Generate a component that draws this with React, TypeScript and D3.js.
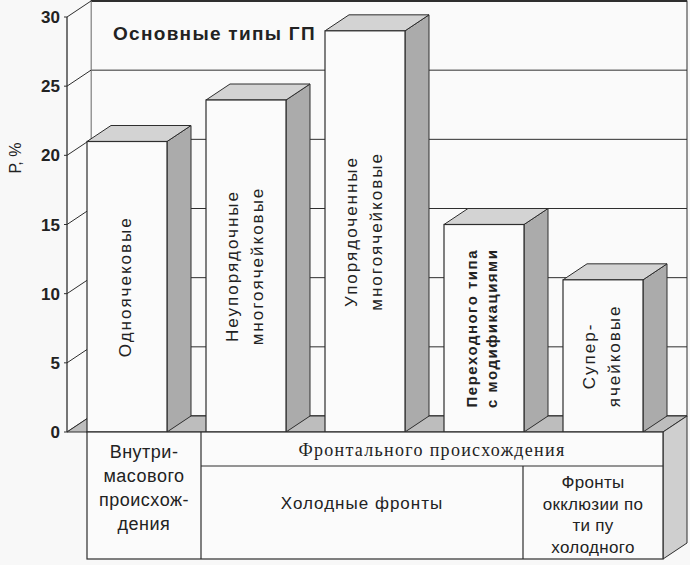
import React from 'react';
import * as d3 from 'd3';

// ---- data ----
const categories = [
  'Одноячековые',
  'Неупорядочные многоячейковые',
  'Упорядоченные многоячейковые',
  'Переходного типа с модификациями',
  'Суперячейковые',
];
const barLabelLines = [
  ['Одноячековые'],
  ['Неупорядочные', 'многоячейковые'],
  ['Упорядоченные', 'многоячейковые'],
  ['Переходного типа', 'с модификациями'],
  ['Супер-', 'ячейковые'],
];
const values = [21, 24, 29, 15, 11];
const yTicks = [0, 5, 10, 15, 20, 25, 30];
const title = 'Основные типы ГП';
const yLabel = 'Р, %';
const groupIntra = ['Внутри-', 'масового', 'происхож-', 'дения'];
const groupFrontal = 'Фронтального происхождения';
const subCold = 'Холодные фронты';
const subOcclusion = ['Фронты', 'окклюзии по', 'ти пу', 'холодного'];

// ---- layout ----
const W = 690, H = 565;
const AX = 67;          // front-left axis x
const FLOOR = 432;      // front floor y
const TOPY = 17;        // y of max value on front axis
const DX = 24, DY = -16; // depth offset
const BACK_RIGHT = 687;
const TABLE_L = 87, TABLE_R = 663, TABLE_B = 559;
const COL1 = 201, COL2 = 523, ROW1 = 466;

const STROKE = '#2e2e2e';
const FONT = "'Liberation Sans', Arial, sans-serif";
const SERIF = "'Liberation Serif', 'Times New Roman', serif";

export default function App() {
  const y = d3.scaleLinear().domain([0, 30]).range([FLOOR, TOPY]);
  const x = d3
    .scaleBand<string>()
    .domain(categories)
    .range([87, 643])
    .paddingInner(39 / 119)
    .paddingOuter(0);
  const bw = x.bandwidth();
  const poly = (pts: [number, number][]) => pts.map((p) => p.join(',')).join(' ');

  const backL = AX + DX;
  const backTop = y(30) + DY;
  const backFloor = FLOOR + DY;

  return (
    <svg width={W} height={H} style={{ position: 'absolute', left: 0, top: 0 }}>
      <rect x={0} y={0} width={W} height={H} fill="#f8f8f8" />

      {/* back wall */}
      <rect x={backL} y={backTop} width={BACK_RIGHT - backL} height={backFloor - backTop} fill="#fafafa" stroke={STROKE} strokeWidth={1} />
      {yTicks.map((t) => (
        <line key={'g' + t} x1={backL} x2={BACK_RIGHT} y1={y(t) + DY} y2={y(t) + DY} stroke={STROKE} strokeWidth={t === 30 ? 2 : 1} />
      ))}

      {/* left side wall */}
      <polygon points={poly([[AX, y(30)], [backL, backTop], [backL, backFloor], [AX, FLOOR]])} fill="#fafafa" stroke="none" />
      <line x1={backL} x2={backL} y1={backTop} y2={backFloor} stroke="#999" strokeWidth={1} />
      {yTicks.map((t) => (
        <g key={'t' + t}>
          <line x1={AX} x2={backL} y1={y(t)} y2={y(t) + DY} stroke={STROKE} strokeWidth={1} />
          <line x1={AX - 3} x2={AX} y1={y(t)} y2={y(t)} stroke={STROKE} strokeWidth={1} />
          <text x={60} y={y(t)} dy="0.36em" textAnchor="end" fontFamily={FONT} fontWeight="bold" fontSize={17} fill="#222">
            {t}
          </text>
        </g>
      ))}
      <line x1={AX} x2={AX} y1={y(30)} y2={FLOOR} stroke={STROKE} strokeWidth={1.3} />

      {/* floor */}
      <polygon points={poly([[AX, FLOOR], [backL, backFloor], [BACK_RIGHT, backFloor], [TABLE_R, FLOOR]])} fill="#bdbdbd" stroke={STROKE} strokeWidth={1} />

      {/* title */}
      <text x={113} y={33} dy="0.36em" fontFamily={FONT} fontWeight="bold" fontSize={19} letterSpacing={1.3} fill="#222">
        {title}
      </text>

      {/* y label */}
      <text transform={`translate(15,158) rotate(-90)`} textAnchor="middle" dy="0.36em" fontFamily={FONT} fontSize={16} fill="#222">
        {yLabel}
      </text>

      {/* bars */}
      {categories.map((c, i) => {
        const x0 = x(c) as number;
        const yt = y(values[i]);
        return (
          <g key={c}>
            <polygon points={poly([[x0 + bw, yt], [x0 + bw + DX, yt + DY], [x0 + bw + DX, FLOOR + DY], [x0 + bw, FLOOR]])} fill="#ababab" stroke={STROKE} strokeWidth={1} />
            <polygon points={poly([[x0, yt], [x0 + DX, yt + DY], [x0 + bw + DX, yt + DY], [x0 + bw, yt]])} fill="#d3d3d3" stroke={STROKE} strokeWidth={1} />
            <rect x={x0} y={yt} width={bw} height={FLOOR - yt} fill="#fbfbfb" stroke={STROKE} strokeWidth={1.2} />
          </g>
        );
      })}

      {/* bar labels */}
      {categories.map((c, i) => {
        const lines = barLabelLines[i];
        const bold = i === 3;
        const fs = bold ? 15 : 17;
        const gap = bold ? 20 : 25;
        const cx = (x(c) as number) + bw / 2 - 2;
        const cy = y(values[i] / 2);
        return (
          <g key={'l' + c} transform={`translate(${cx},${cy}) rotate(-90)`}>
            {lines.map((ln, j) => (
              <text
                key={j}
                x={0}
                y={(j - (lines.length - 1) / 2) * gap}
                dy="0.36em"
                textAnchor="middle"
                fontFamily={FONT}
                fontSize={fs}
                fontWeight={bold ? 'bold' : 'normal'}
                letterSpacing={bold ? 1.5 : 2}
                fill="#222"
              >
                {ln}
              </text>
            ))}
          </g>
        );
      })}

      {/* bottom table */}
      <polygon points={poly([[TABLE_R, FLOOR], [BACK_RIGHT, backFloor], [BACK_RIGHT, TABLE_B + DY], [TABLE_R, TABLE_B]])} fill="#cfcfcf" stroke={STROKE} strokeWidth={1} />
      <rect x={TABLE_L} y={FLOOR} width={TABLE_R - TABLE_L} height={TABLE_B - FLOOR} fill="#fbfbfb" stroke={STROKE} strokeWidth={1.2} />
      <line x1={COL1} x2={COL1} y1={FLOOR} y2={TABLE_B} stroke={STROKE} strokeWidth={1.2} />
      <line x1={COL1} x2={TABLE_R} y1={ROW1} y2={ROW1} stroke={STROKE} strokeWidth={1.2} />
      <line x1={COL2} x2={COL2} y1={ROW1} y2={TABLE_B} stroke={STROKE} strokeWidth={1.2} />

      {groupIntra.map((t, j) => (
        <text key={'gi' + j} x={(TABLE_L + COL1) / 2} y={452 + j * 24} dy="0.36em" textAnchor="middle" fontFamily={FONT} fontSize={18} letterSpacing={0.5} fill="#222">
          {t}
        </text>
      ))}
      <text x={(COL1 + TABLE_R) / 2} y={450} dy="0.36em" textAnchor="middle" fontFamily={SERIF} fontSize={18} letterSpacing={1.3} fill="#222">
        {groupFrontal}
      </text>
      <text x={(COL1 + COL2) / 2} y={503} dy="0.36em" textAnchor="middle" fontFamily={FONT} fontSize={17} letterSpacing={1} fill="#222">
        {subCold}
      </text>
      {subOcclusion.map((t, j) => (
        <text key={'so' + j} x={(COL2 + TABLE_R) / 2} y={482 + j * 21.5} dy="0.36em" textAnchor="middle" fontFamily={FONT} fontSize={17} letterSpacing={0.3} fill="#222">
          {t}
        </text>
      ))}
    </svg>
  );
}
